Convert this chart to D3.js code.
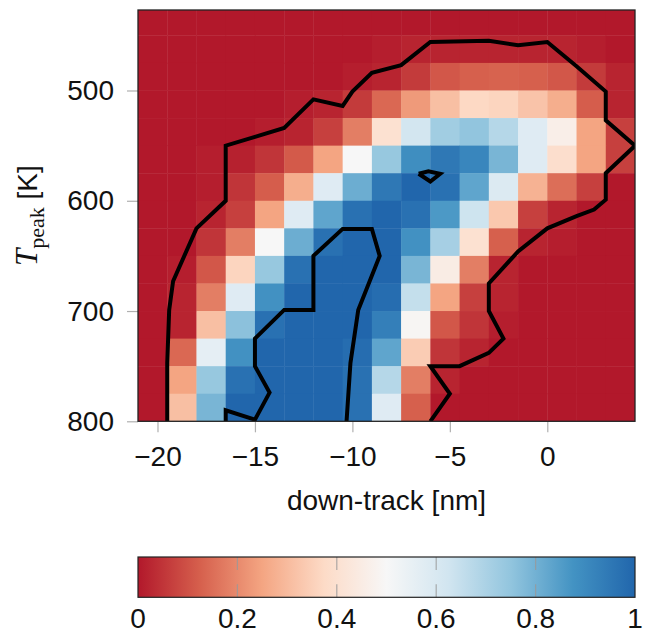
<!DOCTYPE html>
<html><head><meta charset="utf-8">
<script src="https://cdn.jsdelivr.net/npm/d3@7"></script>
<style>
body{margin:0;background:#fff}
svg{display:block}
text{font-family:"Liberation Sans",Arial,sans-serif;fill:#111}
</style>
</head><body>
<svg id="chart" width="652" height="633"></svg>
<script>
// ---- data ----
const downTrackEdges = [-21,-19.5,-18,-16.5,-15,-13.5,-12,-10.5,-9,-7.5,-6,-4.5,-3,-1.5,0,1.5,3,4.5];
const tPeakEdges = [425,450,475,500,525,550,575,600,625,650,675,700,725,750,775,800];
// rows: tPeak 425..800 (top to bottom), columns: down-track -21..4.5
const probability = [
  [0,0,0,0,0,0,0,0,0,0,0,0,0,0,0,0,0],
  [0,0,0,0,0,0,0,0,0.01,0.02,0.02,0.02,0.02,0.02,0.02,0.01,0],
  [0,0,0,0,0,0,0,0.01,0.02,0.06,0.11,0.125,0.13,0.125,0.11,0.06,0.02],
  [0,0,0,0,0,0.01,0.02,0.06,0.14,0.23,0.31,0.37,0.36,0.32,0.27,0.12,0.02],
  [0,0,0,0,0.01,0.02,0.07,0.18,0.40,0.62,0.72,0.75,0.68,0.58,0.46,0.25,0.07],
  [0,0,0.01,0.015,0.05,0.115,0.25,0.5,0.74,0.89,0.95,0.91,0.79,0.58,0.39,0.25,0.07],
  [0,0,0.01,0.05,0.12,0.27,0.58,0.81,0.95,1.0,0.97,0.83,0.59,0.28,0.15,0.07,0],
  [0,0,0.02,0.07,0.25,0.58,0.83,0.97,1.0,0.97,0.86,0.63,0.33,0.07,0.02,0,0],
  [0,0,0.05,0.18,0.5,0.81,0.97,1.0,1.0,0.88,0.71,0.40,0.125,0.02,0.01,0,0],
  [0,0.01,0.11,0.36,0.74,0.97,1.0,1.0,1.0,0.79,0.45,0.18,0.02,0,0,0,0],
  [0,0.02,0.18,0.58,0.88,1.0,1.0,1.0,0.98,0.65,0.25,0.07,0.02,0,0,0,0],
  [0,0.02,0.31,0.76,0.97,1.0,1.0,1.0,0.93,0.49,0.11,0.05,0.01,0,0,0,0],
  [0,0.14,0.56,0.88,1.0,1.0,1.0,0.98,0.83,0.34,0.05,0.02,0,0,0,0,0],
  [0,0.25,0.74,0.97,1.0,1.0,1.0,0.97,0.68,0.18,0.02,0,0,0,0,0,0],
  [0,0.31,0.79,1.0,1.0,1.0,1.0,0.97,0.58,0.125,0,0,0,0,0,0,0]
];
// contour lines [down-track nm, T K]
const outerContour = [[-19.5,800],[-19.5,747],[-19.4,699],[-19.2,673],[-18,625],[-16.5,600],[-16.5,550],[-15,542],[-13.5,534],[-12,508],[-10.5,514],[-10,501],[-9,484],[-7.5,477],[-6,456],[-3,455],[-1.5,459],[0,456],[1.5,478],[3,501],[3,527],[4.5,550],[3,575],[3,599],[2.4,608],[1.5,614],[0,625],[-1.5,646],[-3,675],[-3,700],[-2.25,725],[-3,738],[-4.5,750],[-6,750],[-5,775],[-6,800]];
const innerContour = [[-16.5,800],[-16.5,790],[-15,798.5],[-14.25,774],[-15,750],[-15,725],[-13.5,699],[-12,699],[-12,650],[-10.5,625.5],[-9,625.5],[-8.6,650],[-9.7,699],[-10.1,747],[-10.3,800]];
const peakContour = [[-6.6,575.5],[-6.1,573.3],[-5.5,575.5],[-6.0,582.5],[-6.6,575.5]];
const xTicks = [-20,-15,-10,-5,0];
const yTicks = [500,600,700,800];
const cbTicks = [0,0.2,0.4,0.6,0.8,1];
const cmapStops = [0,0.125,0.25,0.375,0.5,0.625,0.75,0.875,1];
const cmapColors = ["#b2182b","#d6604d","#f4a582","#fddbc7","#f7f7f7","#d1e5f0","#92c5de","#4393c3","#2166ac"];

// ---- chart ----
const svg = d3.select("#chart");
const L = 138, R = 635, T = 10, B = 421.3;
const x = d3.scaleLinear().domain([-21, 4.5]).range([L, R]);
const y = d3.scaleLinear().domain([427, 800]).range([T, B]);
const color = d3.scaleLinear().domain(cmapStops).range(cmapColors);

svg.append("defs").append("clipPath").attr("id","plotclip")
  .append("rect").attr("x",L).attr("y",T).attr("width",R-L).attr("height",B-T);

const cells = [];
probability.forEach((row, j) => row.forEach((v, i) => cells.push({i, j, v})));
const gPlot = svg.append("g").attr("clip-path","url(#plotclip)");
gPlot.selectAll("rect.cell").data(cells).join("rect")
  .attr("class","cell")
  .attr("x", d => x(downTrackEdges[d.i]))
  .attr("y", d => y(tPeakEdges[d.j]))
  .attr("width", d => x(downTrackEdges[d.i+1]) - x(downTrackEdges[d.i]) + 0.4)
  .attr("height", d => y(tPeakEdges[d.j+1]) - y(tPeakEdges[d.j]) + 0.4)
  .attr("fill", d => color(d.v));

const line = d3.line().x(d => x(d[0])).y(d => y(d[1]));
[outerContour, innerContour, peakContour].forEach(c => {
  gPlot.append("path").attr("d", line(c))
    .attr("fill","none").attr("stroke","#000").attr("stroke-width",4)
    .attr("stroke-linejoin","miter").attr("stroke-miterlimit",6);
});

// axes
const fmt = d => d < 0 ? "\u2212" + Math.abs(d) : String(d);
const xAxis = svg.append("g").attr("transform",`translate(0,${B})`)
  .call(d3.axisBottom(x).tickValues(xTicks).tickFormat(fmt).tickSize(11).tickPadding(14));
const yAxis = svg.append("g").attr("transform",`translate(${L},0)`)
  .call(d3.axisLeft(y).tickValues(yTicks).tickFormat(d3.format("d")).tickSize(11).tickPadding(13));
[xAxis, yAxis].forEach(a => {
  a.select(".domain").remove();
  a.selectAll(".tick line").attr("stroke","#b0b0b0").attr("stroke-width",1.2);
  a.selectAll(".tick text").attr("font-size",28).attr("font-family","Liberation Sans, Arial, sans-serif").attr("fill","#111");
});

svg.append("rect").attr("x",L).attr("y",T).attr("width",R-L).attr("height",B-T)
  .attr("fill","none").attr("stroke","#222").attr("stroke-width",1.3);

svg.append("text").attr("x",(L+R)/2).attr("y",510).attr("text-anchor","middle")
  .attr("font-size",28).text("down-track [nm]");

const yl = svg.append("text").attr("transform",`translate(37,${(T+B)/2}) rotate(-90)`)
  .attr("text-anchor","middle").attr("font-size",28);
yl.append("tspan").attr("font-family","Liberation Serif, serif").attr("font-style","italic").attr("font-size",31).text("T");
yl.append("tspan").attr("font-family","Liberation Serif, serif").attr("font-size",22).attr("dy",7).text("peak");
yl.append("tspan").attr("dy",-7).text("\u00a0[K]");

// colorbar
const cbT = 557, cbB = 597.3;
const cx = d3.scaleLinear().domain([0,1]).range([L, R]);
const grad = svg.select("defs").append("linearGradient").attr("id","cbgrad")
  .attr("x1","0%").attr("x2","100%").attr("y1","0%").attr("y2","0%");
grad.selectAll("stop").data(cmapStops).join("stop")
  .attr("offset", d => (d*100) + "%").attr("stop-color", (d,i) => cmapColors[i]);
svg.append("rect").attr("x",L).attr("y",cbT).attr("width",R-L).attr("height",cbB-cbT)
  .attr("fill","url(#cbgrad)");
const inner = cbTicks.filter(d => d > 0 && d < 1);
svg.selectAll("line.cbt").data(inner).join("line").attr("class","cbt")
  .attr("x1", d => cx(d)).attr("x2", d => cx(d)).attr("y1", cbT).attr("y2", cbT+13)
  .attr("stroke","#999").attr("stroke-opacity",0.8).attr("stroke-width",1.2);
svg.selectAll("line.cbb").data(inner).join("line").attr("class","cbb")
  .attr("x1", d => cx(d)).attr("x2", d => cx(d)).attr("y1", cbB-13).attr("y2", cbB)
  .attr("stroke","#999").attr("stroke-opacity",0.8).attr("stroke-width",1.2);
svg.append("rect").attr("x",L).attr("y",cbT).attr("width",R-L).attr("height",cbB-cbT)
  .attr("fill","none").attr("stroke","#222").attr("stroke-width",1.2);
svg.selectAll("text.cbl").data(cbTicks).join("text").attr("class","cbl")
  .attr("x", d => cx(d)).attr("y", 628).attr("text-anchor","middle").attr("font-size",28)
  .text(d => d3.format("~g")(d));
</script>
</body></html>
